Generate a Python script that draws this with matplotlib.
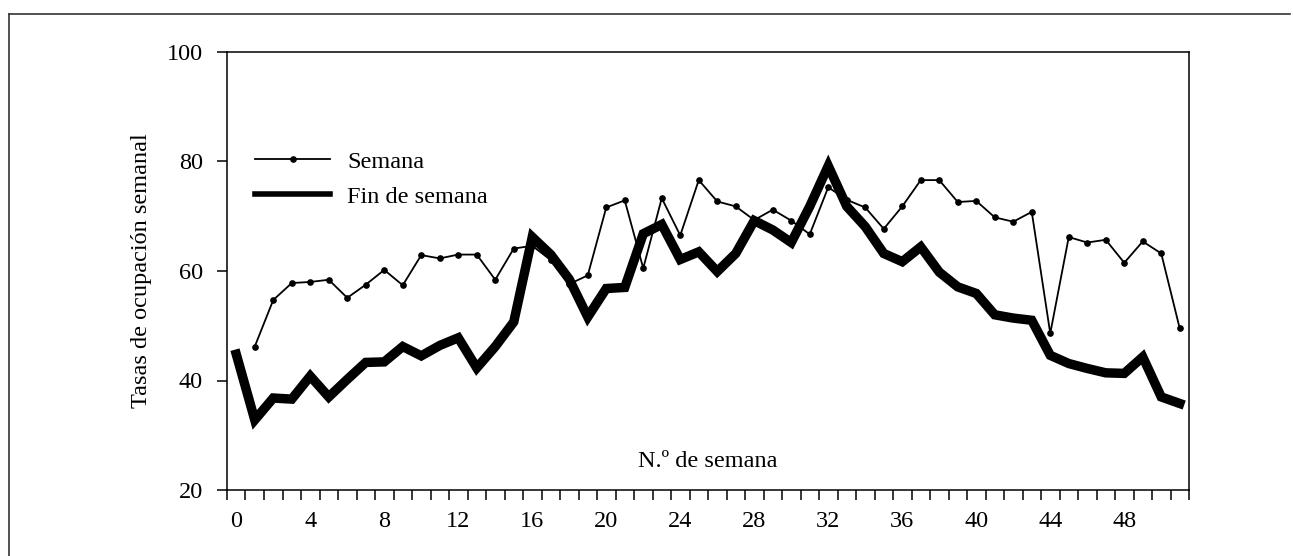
import matplotlib
matplotlib.use("Agg")
import matplotlib.pyplot as plt
from matplotlib.lines import Line2D
import numpy as np

# --- settings ---
plt.rcParams.update({
    "font.family": ["Liberation Serif", "DejaVu Serif"],
    "font.size": 17.5,
    "axes.linewidth": 1.1,
})

# --- data ---
# Fin de semana: weeks 0..51
weeks_fin = list(range(0, 52))
fin_semana = [44.8, 32.8, 36.8, 36.6, 40.8, 37.0, 40.2, 43.3, 43.4, 46.2,
              44.5, 46.4, 47.8, 42.3, 46.2, 50.7, 66.2, 63.0, 58.5, 51.6,
              56.8, 57.0, 66.8, 68.5, 62.1, 63.5, 59.9, 63.2, 69.2, 67.5,
              65.2, 71.8, 79.2, 71.8, 68.1, 63.2, 61.7, 64.4, 59.8, 57.1,
              55.9, 52.0, 51.4, 51.0, 44.6, 43.1, 42.2, 41.4, 41.3, 44.3,
              37.0, 35.8]

# Semana: weeks 1..51
weeks_sem = list(range(1, 52))
semana = [46.2, 54.7, 57.8, 58.0, 58.4, 55.1, 57.5, 60.2, 57.4, 62.9,
          62.3, 63.0, 63.0, 58.4, 64.1, 64.6, 62.0, 57.6, 59.2, 71.6,
          72.9, 60.5, 73.3, 66.5, 76.6, 72.7, 71.8, 69.3, 71.2, 69.2,
          66.7, 75.3, 73.0, 71.6, 67.7, 71.8, 76.6, 76.6, 72.6, 72.8,
          69.8, 69.0, 70.8, 48.6, 66.2, 65.2, 65.7, 61.5, 65.4, 63.2,
          49.5]

xlabels = list(range(0, 49, 4))
yticks = [20, 40, 60, 80, 100]

# --- plot ---
fig = plt.figure(figsize=(12.93, 5.56), dpi=100)
ax = fig.add_axes([227 / 1293, 1 - 490 / 556, 962 / 1293, 438 / 556])

ax.plot(weeks_fin, fin_semana, color="black", lw=6.8, solid_joinstyle="miter", zorder=2)
ax.plot(weeks_sem, semana, color="black", lw=1.3, marker="o", markersize=3.8, zorder=3)

ax.set_xlim(-0.5, 51.5)
ax.set_ylim(20, 100)

ax.set_xticks(xlabels)
ax.set_xticklabels([str(v) for v in xlabels])
ax.set_xticks(np.arange(-0.5, 52, 1), minor=True)
ax.tick_params(axis="x", which="major", length=0, pad=15)
ax.tick_params(axis="x", which="minor", direction="out", length=7, width=1.1)

ax.set_yticks(yticks)
ax.tick_params(axis="y", direction="out", length=7.5, width=1.1, pad=10)

ax.set_ylabel("Tasas de ocupación semanal")
ax.yaxis.set_label_coords(-0.078, 0.5)
ax.set_xlabel("N.º de semana")
ax.xaxis.set_label_coords(0.5, 0.09)

handles = [
    Line2D([], [], color="black", lw=1.3, marker="o", markersize=3.8, markevery=[1]),
    Line2D([], [], color="black", lw=4),
]
ax.legend(handles, ["Semana", "Fin de semana"], loc="upper left",
          bbox_to_anchor=(0.029, 0.775), frameon=False, borderpad=0,
          borderaxespad=0, handlelength=3.1, handletextpad=0.7,
          labelspacing=0.55)

# scan border (top and left)
fig.add_artist(Line2D([9 / 1293, 1290 / 1293], [1 - 14 / 556, 1 - 14 / 556],
                      color="#333333", lw=1.2))
fig.add_artist(Line2D([9 / 1293, 9 / 1293], [0, 1 - 14 / 556],
                      color="#333333", lw=1.2))

fig.savefig("out.png", dpi=100)
